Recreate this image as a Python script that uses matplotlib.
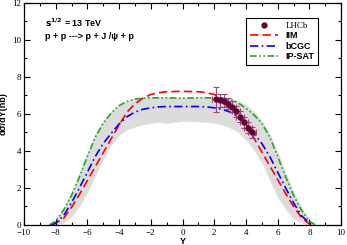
import numpy as np
import matplotlib.pyplot as plt
from matplotlib.ticker import MultipleLocator
from matplotlib.lines import Line2D

# rapidity grid for model curves
y_iim = [-8.2, -7.5, -7.0, -6.5, -6.0, -5.5, -5.0, -4.5, -4.0, -3.5, -3.0, -2.5, -2.0, -1.5, -1.0, 0.0,
         1.0, 1.5, 2.0, 2.5, 3.0, 3.5, 4.0, 4.5, 5.0, 5.5, 6.0, 6.5, 7.0, 7.5, 8.0, 8.2]
iim = [0.0, 0.35, 0.95, 1.65, 2.4, 3.15, 3.9, 4.65, 5.4, 6.1, 6.55, 6.85, 7.05, 7.15, 7.2, 7.22,
       7.2, 7.15, 7.05, 6.85, 6.55, 6.1, 5.45, 4.7, 3.95, 3.2, 2.45, 1.7, 1.0, 0.4, 0.05, 0.0]

y_bcgc = [-8.3, -8.0, -7.5, -7.0, -6.5, -6.0, -5.5, -5.0, -4.5, -4.0, -3.5, -3.0, -2.5, -2.0, -1.5, -1.0, 0.0,
          1.0, 1.5, 2.0, 2.5, 3.0, 3.5, 4.0, 4.5, 5.0, 5.5, 6.0, 6.5, 7.0, 7.5, 8.0, 8.3]
bcgc = [0.0, 0.1, 0.5, 1.2, 2.0, 2.85, 3.7, 4.4, 4.95, 5.45, 5.85, 6.1, 6.25, 6.33, 6.38, 6.4, 6.4,
        6.4, 6.38, 6.33, 6.25, 6.1, 5.85, 5.45, 4.95, 4.4, 3.7, 2.85, 2.0, 1.2, 0.5, 0.1, 0.0]

y_ipsat = [-8.4, -8.0, -7.5, -7.0, -6.5, -6.0, -5.5, -5.0, -4.5, -4.0, -3.5, -3.0, -2.5, -2.0, -1.0, 0.0,
           1.0, 2.0, 2.5, 3.0, 3.5, 4.0, 4.5, 5.0, 5.5, 6.0, 6.5, 7.0, 7.5, 8.0, 8.4]
ipsat = [0.0, 0.2, 0.8, 1.6, 2.6, 3.7, 4.75, 5.5, 6.05, 6.45, 6.68, 6.8, 6.85, 6.87, 6.87, 6.85,
         6.87, 6.87, 6.85, 6.8, 6.6, 6.3, 5.95, 5.5, 4.75, 3.7, 2.6, 1.6, 0.8, 0.2, 0.0]

# grey uncertainty band
y_band = [-8.4, -8.0, -7.5, -7.0, -6.5, -6.0, -5.5, -5.0, -4.5, -4.0, -3.5, -3.0, -2.5, -2.0, -1.5, -1.0, -0.5, 0.0,
          0.5, 1.0, 1.5, 2.0, 2.5, 3.0, 3.5, 4.0, 4.5, 5.0, 5.5, 6.0, 6.5, 7.0, 7.5, 8.0, 8.4]
band_lo = [0.0, 0.0, 0.1, 0.45, 1.0, 1.75, 2.65, 3.55, 4.3, 4.85, 5.15, 5.3, 5.42, 5.5, 5.55, 5.5, 5.55, 5.6,
           5.6, 5.58, 5.55, 5.5, 5.4, 5.25, 5.0, 4.6, 4.05, 3.35, 2.4, 1.5, 0.85, 0.35, 0.1, 0.0, 0.0]
band_hi = [0.0, 0.3, 0.95, 1.8, 2.85, 3.95, 4.95, 5.65, 6.15, 6.5, 6.7, 6.85, 6.9, 6.92, 6.92, 6.92, 6.9, 6.9,
           6.9, 6.92, 6.92, 6.92, 6.9, 6.85, 6.7, 6.5, 6.15, 5.65, 4.95, 3.95, 2.85, 1.8, 0.95, 0.3, 0.0]

# LHCb data
y_lhcb = [2.125, 2.375, 2.625, 2.875, 3.125, 3.375, 3.625, 3.875, 4.125, 4.375]
lhcb = [6.78, 6.75, 6.72, 6.55, 6.4, 6.15, 5.85, 5.55, 5.25, 5.0]
lhcb_err = [0.65, 0.35, 0.35, 0.3, 0.3, 0.3, 0.3, 0.3, 0.3, 0.3]

fig = plt.figure(figsize=(3.47, 2.45), dpi=100)
ax = fig.add_axes([0.069, 0.082, 0.914, 0.906])

ax.fill_between(y_band, band_lo, band_hi, color='#dcdcdc', lw=0)
l1, = ax.plot(y_iim, iim, color='red', lw=1.2, dashes=(5, 2.5), label='IIM')
l2, = ax.plot(y_bcgc, bcgc, color='blue', lw=1.2, dashes=(5, 2, 1, 2), label='bCGC')
l3, = ax.plot(y_ipsat, ipsat, color='#22aa22', lw=1.2, dashes=(4, 1.5, 1, 1.5, 1, 1.5), label='IP-SAT')
ax.errorbar(y_lhcb, lhcb, yerr=lhcb_err, xerr=0.25, fmt='o', color='#660033', ecolor='#994477',
            ms=3.5, elinewidth=0.8, capsize=2, capthick=0.8)
h0 = Line2D([], [], ls='none', marker='o', color='#660033', ms=3.5)

ax.set_xlim(-10, 10)
ax.set_ylim(0, 12)
ax.xaxis.set_major_locator(MultipleLocator(2))
ax.xaxis.set_minor_locator(MultipleLocator(1))
ax.yaxis.set_major_locator(MultipleLocator(2))
ax.yaxis.set_minor_locator(MultipleLocator(1))
ax.tick_params(which='both', direction='in', top=True, right=True, width=0.8)
ax.tick_params(which='major', length=4, labelsize=6.5, pad=2)
ax.tick_params(axis='x', which='major', pad=3)
ax.tick_params(which='minor', length=2)
for lab in ax.get_xticklabels() + ax.get_yticklabels():
    lab.set_family('Liberation Serif')
for s in ax.spines.values():
    s.set_linewidth(0.9)

ax.set_xlabel('Y', fontsize=6.5, fontweight='bold', family='Liberation Sans', labelpad=0)
ax.set_ylabel('dσ/dY(nb)', fontsize=6.5, fontweight='bold', family='Liberation Sans', labelpad=3)

ax.text(-8.7, 10.95, r'$\mathbf{s^{1/2}}$ = 13 TeV', fontsize=6.5, fontweight='bold', family='Liberation Sans',
        va='center')
ax.text(-8.7, 10.2, 'p + p ---> p + J /ψ + p', fontsize=6.5, fontweight='bold', family='Liberation Sans',
        va='center')

leg = ax.legend([h0, l1, l2, l3], ['LHCb', 'IIM', 'bCGC', 'IP-SAT'], loc='upper left',
                bbox_to_anchor=(0.70, 0.932), borderaxespad=0, fancybox=False, edgecolor='black',
                framealpha=1, handlelength=3.2, labelspacing=0.15, borderpad=0.4,
                prop={'family': 'Liberation Sans', 'weight': 'bold', 'size': 6.5})
leg.get_frame().set_linewidth(0.8)
leg.get_texts()[0].set_family('Liberation Serif')
leg.get_texts()[0].set_fontweight('normal')

fig.savefig('out.png', dpi=100)
